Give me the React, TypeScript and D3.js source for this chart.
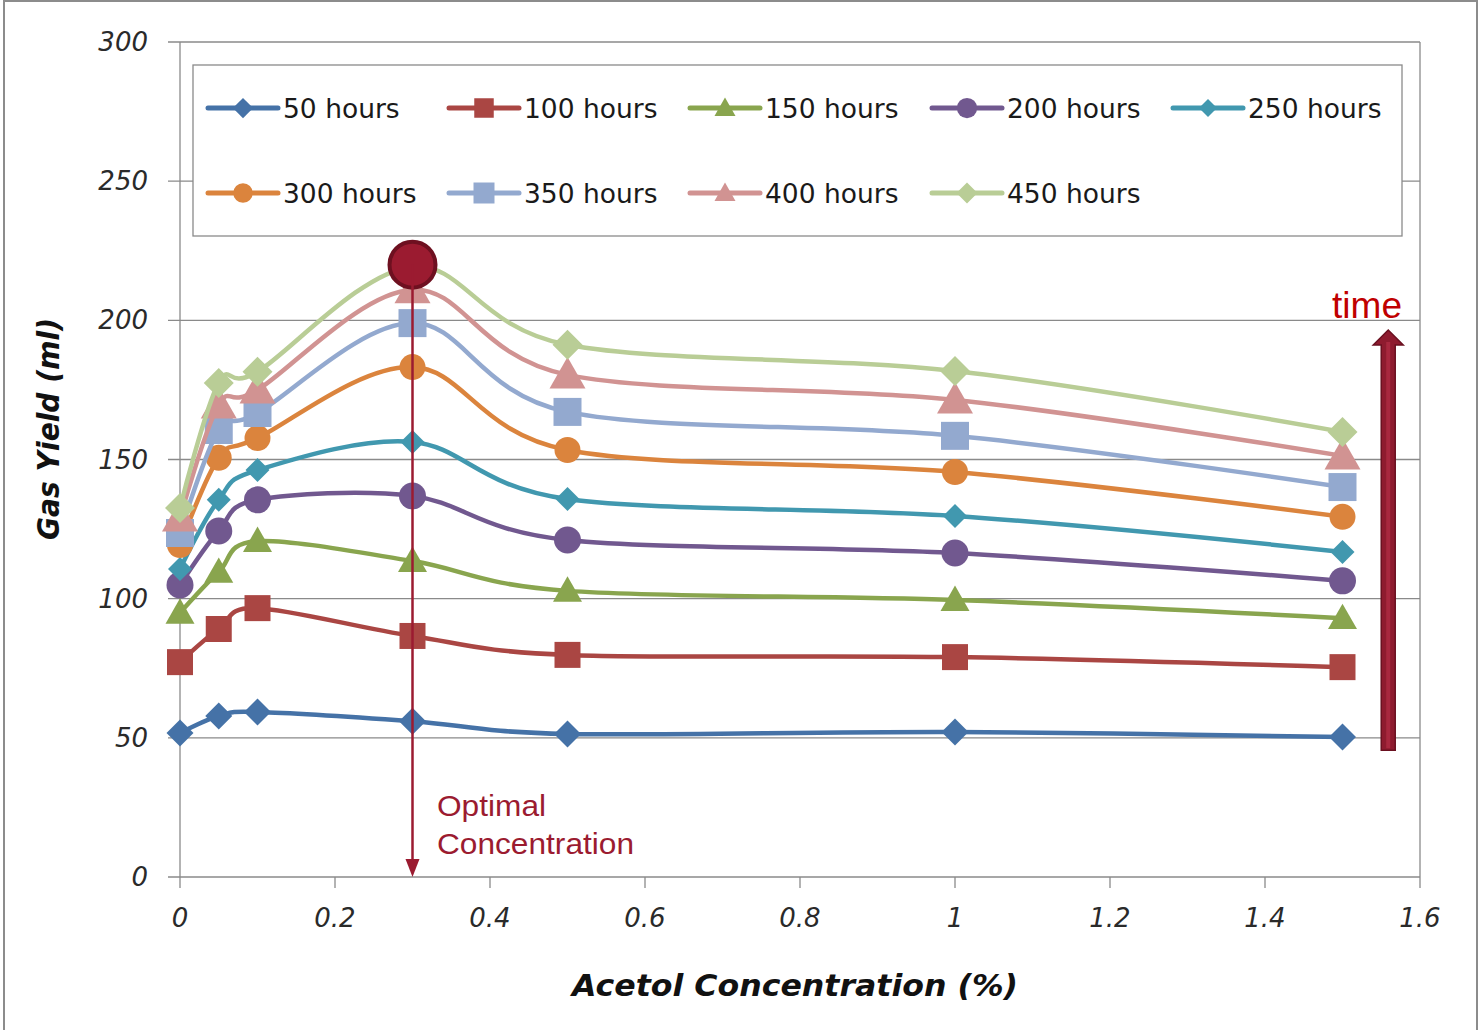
import React, { useEffect, useRef } from 'react';
import * as d3 from 'd3';

// acetol concentration (%) at each measurement
const concentrations = [0, 0.05, 0.1, 0.3, 0.5, 1, 1.5];

const seriesNames = ['50 hours', '100 hours', '150 hours', '200 hours', '250 hours',
    '300 hours', '350 hours', '400 hours', '450 hours'];

// gas yield (ml) per series
const gas50 = [51.7, 57.8, 59.3, 56.0, 51.4, 52.1, 50.3];
const gas100 = [77.2, 89.1, 96.6, 86.6, 79.8, 79.0, 75.4];
const gas150 = [94.9, 109.6, 120.7, 113.5, 102.8, 99.5, 93.0];
const gas200 = [104.9, 124.3, 135.5, 136.9, 121.1, 116.4, 106.4];
const gas250 = [110.7, 135.5, 146.2, 156.3, 135.8, 129.7, 116.8];
const gas300 = [119.3, 150.6, 157.7, 183.2, 153.4, 145.5, 129.4];
const gas350 = [123.6, 160.6, 166.7, 199.0, 167.1, 158.5, 140.1];
const gas400 = [129.0, 169.6, 175.0, 211.0, 180.4, 171.4, 151.3];
const gas450 = [132.6, 177.5, 181.5, 219.2, 191.2, 181.8, 159.9];

const xTicks = [0, 0.2, 0.4, 0.6, 0.8, 1, 1.2, 1.4, 1.6];
const yTicks = [0, 50, 100, 150, 200, 250, 300];

// annotation anchors, in data units
const optimalPoint = { x: 0.3, y: 220 };
const timeArrow = { x: 1.559, from: 45.5, to: 196.5 };

const COLORS = ['#4572A7', '#AA4643', '#89A54E', '#71588F', '#4198AF',
    '#DB843D', '#93A9CF', '#D19392', '#B9CD96'];
const SHAPES = ['diamond', 'square', 'triangle', 'circle', 'diamond',
    'circle', 'square', 'triangle', 'diamond'];
const SIZES = [13.5, 13, 14.5, 13.5, 12, 13, 14, 18, 15];

const PLOT = { left: 180, top: 42, right: 1420, bottom: 877 };
const WIDTH = 1479;
const HEIGHT = 1030;
const DARK_RED = '#9B1B30';

const markerPath = (shape: string, s: number): string => {
    if (shape === 'diamond') return `M0,${-s}L${s},0L0,${s}L${-s},0Z`;
    if (shape === 'square') return `M${-s},${-s}H${s}V${s}H${-s}Z`;
    if (shape === 'triangle') return `M0,${-s}L${s},${s * 0.75}L${-s},${s * 0.75}Z`;
    return `M${-s},0A${s},${s} 0 1,1 ${s},0A${s},${s} 0 1,1 ${-s},0Z`;
};

const App = () => {
    const ref = useRef<SVGSVGElement>(null);

    useEffect(() => {
        plotChart();
    }, []);

    const plotChart = () => {
        const svg = d3.select(ref.current);
        svg.selectAll('*').remove();

        const allSeries = [gas50, gas100, gas150, gas200, gas250, gas300, gas350, gas400, gas450];

        const xScale = d3.scaleLinear().domain([0, 1.6]).range([PLOT.left, PLOT.right]);
        const yScale = d3.scaleLinear().domain([0, 300]).range([PLOT.bottom, PLOT.top]);

        // outer frame
        svg.append('rect')
            .attr('x', 4).attr('y', 1)
            .attr('width', 1473).attr('height', 1045)
            .attr('fill', 'white')
            .attr('stroke', '#8c8c8c').attr('stroke-width', 2);

        // horizontal gridlines + y ticks
        svg.append('g')
            .selectAll('line')
            .data(yTicks)
            .enter().append('line')
            .attr('x1', PLOT.left - 12).attr('x2', PLOT.right)
            .attr('y1', d => yScale(d)).attr('y2', d => yScale(d))
            .attr('stroke', '#8a8a8a').attr('stroke-width', 1.3);

        // left axis + right border
        [PLOT.left, PLOT.right].forEach(x => {
            svg.append('line')
                .attr('x1', x).attr('x2', x)
                .attr('y1', PLOT.top).attr('y2', PLOT.bottom)
                .attr('stroke', '#8a8a8a').attr('stroke-width', 1.3);
        });

        // x ticks
        svg.append('g')
            .selectAll('line')
            .data(xTicks)
            .enter().append('line')
            .attr('x1', d => xScale(d)).attr('x2', d => xScale(d))
            .attr('y1', PLOT.bottom).attr('y2', PLOT.bottom + 11)
            .attr('stroke', '#8a8a8a').attr('stroke-width', 1.3);

        // tick labels
        svg.append('g')
            .selectAll('text')
            .data(yTicks)
            .enter().append('text')
            .attr('x', 148)
            .attr('y', d => yScale(d) + 9)
            .attr('text-anchor', 'end')
            .style('font-family', 'DejaVu Sans')
            .style('font-style', 'italic')
            .style('font-size', '26px')
            .attr('fill', '#2a2a2a')
            .text(d => d);

        svg.append('g')
            .selectAll('text')
            .data(xTicks)
            .enter().append('text')
            .attr('x', d => xScale(d))
            .attr('y', 927)
            .attr('text-anchor', 'middle')
            .style('font-family', 'DejaVu Sans')
            .style('font-style', 'italic')
            .style('font-size', '26px')
            .attr('fill', '#2a2a2a')
            .text(d => String(+d.toFixed(1)));

        // axis titles
        svg.append('text')
            .attr('x', 795).attr('y', 996)
            .attr('text-anchor', 'middle')
            .attr('textLength', 446).attr('lengthAdjust', 'spacingAndGlyphs')
            .style('font-family', 'DejaVu Sans')
            .style('font-style', 'italic').style('font-weight', 'bold')
            .style('font-size', '31px')
            .attr('fill', '#111')
            .text('Acetol Concentration (%)');

        svg.append('text')
            .attr('transform', 'translate(59,429) rotate(-90)')
            .attr('text-anchor', 'middle')
            .attr('textLength', 222).attr('lengthAdjust', 'spacingAndGlyphs')
            .style('font-family', 'DejaVu Sans')
            .style('font-style', 'italic').style('font-weight', 'bold')
            .style('font-size', '30px')
            .attr('fill', '#111')
            .text('Gas Yield (ml)');

        // legend
        svg.append('rect')
            .attr('x', 193).attr('y', 65)
            .attr('width', 1209).attr('height', 171)
            .attr('fill', 'white')
            .attr('stroke', '#8a8a8a').attr('stroke-width', 1.3);

        const legendCols = [208, 449, 690, 932, 1173];
        const legendRows = [108, 193];
        const legend = svg.append('g')
            .selectAll('g')
            .data(seriesNames)
            .enter().append('g')
            .attr('transform', (_, i) => `translate(${legendCols[i % 5]},${legendRows[Math.floor(i / 5)]})`);
        legend.append('line')
            .attr('x1', 0).attr('x2', 70)
            .attr('stroke', (_, i) => COLORS[i])
            .attr('stroke-width', 5).attr('stroke-linecap', 'round');
        legend.append('path')
            .attr('transform', 'translate(35,0)')
            .attr('d', (_, i) => markerPath(SHAPES[i], Math.min(SIZES[i], 14) * 0.75))
            .attr('fill', (_, i) => COLORS[i]);
        legend.append('text')
            .attr('x', 75).attr('y', 10)
            .style('font-family', 'DejaVu Sans')
            .style('font-size', '26.5px')
            .attr('fill', '#1a1a1a')
            .text(d => d);

        // series
        const line = d3.line<number>()
            .x((_, i) => xScale(concentrations[i]))
            .y(d => yScale(d))
            .curve(d3.curveCardinal.tension(0));

        allSeries.forEach((values, si) => {
            const g = svg.append('g');
            g.append('path')
                .datum(values)
                .attr('fill', 'none')
                .attr('stroke', COLORS[si])
                .attr('stroke-width', 4.5)
                .attr('stroke-linejoin', 'round')
                .attr('d', line);
            g.selectAll('path.marker')
                .data(values)
                .enter().append('path')
                .attr('class', 'marker')
                .attr('transform', (d, i) => `translate(${xScale(concentrations[i])},${yScale(d)})`)
                .attr('d', markerPath(SHAPES[si], SIZES[si]))
                .attr('fill', COLORS[si]);
        });

        // optimal concentration annotation
        const ox = xScale(optimalPoint.x);
        const oy = yScale(optimalPoint.y);
        svg.append('circle')
            .attr('cx', ox).attr('cy', oy).attr('r', 23)
            .attr('fill', DARK_RED)
            .attr('stroke', '#6E1020').attr('stroke-width', 4);
        svg.append('line')
            .attr('x1', ox).attr('x2', ox)
            .attr('y1', oy).attr('y2', PLOT.bottom - 14)
            .attr('stroke', DARK_RED).attr('stroke-width', 2.5);
        svg.append('path')
            .attr('transform', `translate(${ox},${PLOT.bottom})`)
            .attr('d', 'M0,0L-7,-18L7,-18Z')
            .attr('fill', DARK_RED);
        svg.append('text')
            .attr('x', 437).attr('y', 816)
            .attr('textLength', 109).attr('lengthAdjust', 'spacingAndGlyphs')
            .style('font-family', 'Liberation Sans')
            .style('font-size', '30px')
            .attr('fill', DARK_RED)
            .text('Optimal');
        svg.append('text')
            .attr('x', 437).attr('y', 854)
            .attr('textLength', 197).attr('lengthAdjust', 'spacingAndGlyphs')
            .style('font-family', 'Liberation Sans')
            .style('font-size', '30px')
            .attr('fill', DARK_RED)
            .text('Concentration');

        // time arrow
        const tx = xScale(timeArrow.x);
        const tBottom = yScale(timeArrow.from);
        const tTop = yScale(timeArrow.to);
        svg.append('path')
            .attr('d', `M${tx - 7},${tBottom}V${tTop + 15}H${tx - 15}L${tx},${tTop}L${tx + 15},${tTop + 15}H${tx + 7}V${tBottom}Z`)
            .attr('fill', '#8E1B2F')
            .attr('stroke', '#6A1020').attr('stroke-width', 1.5);
        svg.append('line')
            .attr('x1', tx).attr('x2', tx)
            .attr('y1', tTop + 12).attr('y2', tBottom - 2)
            .attr('stroke', '#A8283F').attr('stroke-width', 4);
        svg.append('text')
            .attr('x', 1402).attr('y', 318)
            .attr('text-anchor', 'end')
            .style('font-family', 'Liberation Sans')
            .style('font-size', '37px')
            .attr('fill', '#C00000')
            .text('time');
    };

    return (
        <svg ref={ref} width={WIDTH} height={HEIGHT}
            style={{ position: 'absolute', left: 0, top: 0, background: 'white' }} />
    );
};

export default App;
